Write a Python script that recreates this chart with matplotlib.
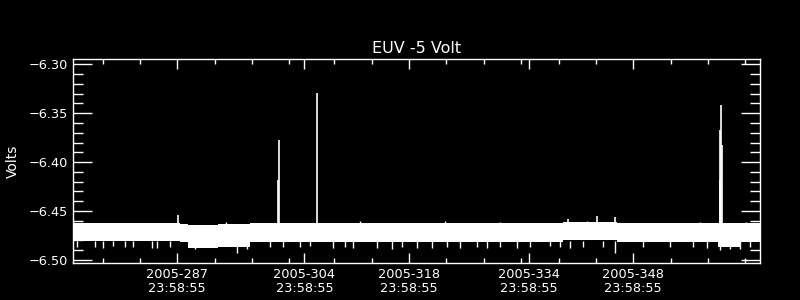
import matplotlib
matplotlib.use('Agg')
import matplotlib.pyplot as plt

# day of year 2005 (fractional) for the dense telemetry band
band_day = [273.9, 288.0, 288.3, 289.4, 293.5, 297.7, 339.6, 346.8, 360.3, 363.3, 366.0]
band_top = [-6.4625, -6.4625, -6.4628, -6.4640, -6.4635, -6.4625, -6.4612, -6.4625, -6.4625, -6.4625, -6.4625]
band_bottom = [-6.4810, -6.4810, -6.4815, -6.4875, -6.4865, -6.4812, -6.4800, -6.4812, -6.4865, -6.4812, -6.4812]

# short drops below the band
dip_day = [274.54, 276.99, 278.06, 279.40, 281.00, 282.07, 284.58, 285.24, 287.02, 290.37,
           295.95, 297.28, 300.40, 302.18, 304.42, 305.76, 308.87, 310.43, 311.55, 314.68,
           316.68, 318.02, 320.03, 322.03, 324.04, 325.82, 328.05, 329.39, 331.17, 333.40,
           335.18, 337.86, 339.20, 340.54, 342.31, 344.99, 346.55, 350.34, 353.91, 357.03,
           358.82, 360.60, 361.94, 363.28, 364.62]
dip_value = [-6.4870, -6.4865, -6.4875, -6.4860, -6.4870, -6.4865, -6.4880, -6.4880, -6.4870, -6.4890,
             -6.4930, -6.4885, -6.4870, -6.4865, -6.4870, -6.4860, -6.4880, -6.4870, -6.4875, -6.4880,
             -6.4885, -6.4870, -6.4880, -6.4875, -6.4870, -6.4880, -6.4865, -6.4880, -6.4870, -6.4875,
             -6.4870, -6.4860, -6.4870, -6.4880, -6.4865, -6.4870, -6.4930, -6.4870, -6.4865, -6.4870,
             -6.4880, -6.4900, -6.4890, -6.4885, -6.4870]

# small bumps above the band
up_day = [294.51, 312.44, 323.81, 331.17, 342.81, 357.93, 364.08]
up_value = [-6.4608, -6.4605, -6.4605, -6.4608, -6.4605, -6.4608, -6.4608]

# spikes
spike_day = [288.09, 301.50, 301.62, 306.69, 340.27, 344.15, 346.55, 360.55, 360.66, 360.76, 360.88]
spike_value = [-6.4540, -6.4180, -6.3775, -6.3294, -6.4580, -6.4550, -6.4560, -6.4183, -6.3670, -6.3416, -6.3826]

major_days = [287.9992, 304.9992, 318.9992, 334.9992, 348.9992]
major_labels = ['2005-287\n23:58:55', '2005-304\n23:58:55', '2005-318\n23:58:55',
                '2005-334\n23:58:55', '2005-348\n23:58:55']
minor_days = [278, 283, 293, 298, 303, 309, 314, 324, 329, 334, 339, 344, 354, 359, 364]

fig = plt.figure(figsize=(8, 3), dpi=100, facecolor='black')
ax = fig.add_axes([72.5 / 800, 37.3 / 300, 687.5 / 800, 203.4 / 300], facecolor='black')

ax.fill_between(band_day, band_bottom, band_top, step='post', color='white', lw=0)
ax.vlines(dip_day, -6.481, dip_value, color='white', lw=1)
ax.vlines(up_day, -6.463, up_value, color='white', lw=1)
ax.vlines(spike_day, -6.463, spike_value, color='white', lw=1.2)

ax.set_xlim(273.98, 365.95)
ax.set_ylim(-6.5028, -6.2949)

ax.set_xticks(major_days)
ax.set_xticklabels(major_labels, linespacing=1.05)
ax.set_xticks(minor_days, minor=True)
ax.set_yticks([-6.50, -6.45, -6.40, -6.35, -6.30])
ax.set_yticklabels(['\u22126.50', '\u22126.45', '\u22126.40', '\u22126.35', '\u22126.30'])
ax.set_yticks([-6.50 + 0.01 * i for i in range(21)], minor=True)

for s in ax.spines.values():
    s.set_color('white')
    s.set_linewidth(1)

ax.tick_params(which='both', direction='in', top=True, right=True, colors='white', width=1)
ax.tick_params(axis='x', which='major', length=7, pad=4, labelsize=9.3)
ax.tick_params(axis='x', which='minor', length=3.5)
ax.tick_params(axis='y', which='major', length=14, pad=3.2, labelsize=9.3)
ax.tick_params(axis='y', which='minor', length=7)

ax.set_title('EUV -5 Volt', color='white', fontsize=11.5, pad=4.3)
fig.text(12.5 / 800, 0.461, 'Volts', rotation=90, ha='center', va='center', color='white', fontsize=10)

fig.savefig('out.png', dpi=100, facecolor='black')
